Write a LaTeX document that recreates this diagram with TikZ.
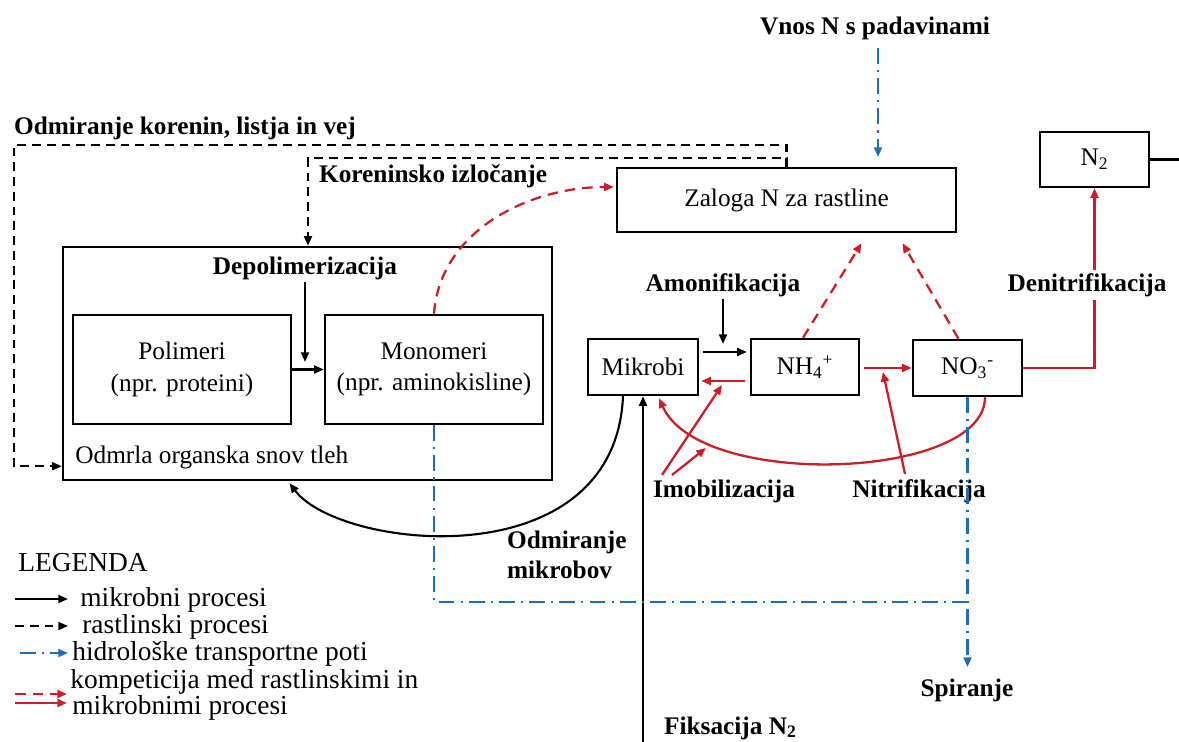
\documentclass[tikz,border=0pt]{standalone}
\usepackage{fontspec}
\setmainfont{Liberation Serif}
\usetikzlibrary{arrows.meta,calc}
\definecolor{myred}{RGB}{205,30,40}
\definecolor{myblue}{RGB}{30,110,180}
\begin{document}
\begin{tikzpicture}[x=0.02cm,y=-0.02cm,
  box/.style={draw,line width=1.4pt,inner sep=0pt,font=\fontsize{14.4}{18}\selectfont,align=center},
  lab/.style={font=\fontsize{14.4}{17}\selectfont\bfseries,inner sep=1pt},
  tip/.style={-{Triangle[length=5.5pt,width=4.5pt]}},
  micro/.style={tip,line width=1.2pt},
  plant/.style={tip,line width=1.2pt,dash pattern=on 5pt off 3.4pt},
  hydro/.style={tip,line width=1.2pt,myblue,dash pattern=on 9pt off 3.5pt on 1.2pt off 3.5pt},
  hydroline/.style={line width=1.2pt,myblue,dash pattern=on 9pt off 3.5pt on 1.2pt off 3.5pt},
  compd/.style={tip,line width=1.3pt,myred,dash pattern=on 6pt off 4pt},
  comps/.style={tip,line width=1.3pt,myred},
  leg/.style={font=\fontsize{15.6}{18}\selectfont,anchor=west,inner sep=0pt,text height=10pt,text depth=3pt}
]
\useasboundingbox (0,0) rectangle (1179,742);

% boxes
\node[box,minimum width=9.78cm,minimum height=4.66cm] (big) at (307.5,363.5) {};
\node[box,minimum width=4.36cm,minimum height=2.18cm] (poli) at (182,369.5) {Polimeri\\(npr. proteini)};
\node[box,minimum width=4.36cm,minimum height=2.18cm] (mono) at (434,369.5) {Monomeri\\(npr. aminokisline)};
\node[box,minimum width=6.78cm,minimum height=1.28cm] (zal) at (786.5,200) {Zaloga N za rastline};
\node[box,minimum width=2.18cm,minimum height=1.10cm] (n2) at (1094.5,159.5) {N\textsubscript{2}};
\node[box,minimum width=2.2cm,minimum height=1.12cm] (mik) at (643,367) {Mikrobi};
\node[box,minimum width=2.16cm,minimum height=1.12cm] (nh4) at (805,367) {NH\textsubscript{4}\textsuperscript{+}};
\node[box,minimum width=2.18cm,minimum height=1.12cm] (no3) at (967.5,368) {NO\textsubscript{3}\textsuperscript{-}};
\node[font=\fontsize{14.4}{18}\selectfont,anchor=west,inner sep=0pt] (odm) at (75,457) {Odmrla organska snov tleh};

% labels
\node[lab] (vnos) at (875,28) {Vnos N s padavinami};
\node[lab,anchor=west] (okv) at (12,128) {Odmiranje korenin, listja in vej};
\node[lab,anchor=west] (kor) at (317,176) {Koreninsko izločanje};
\node[lab] (dep) at (305,268) {Depolimerizacija};
\node[lab] (amo) at (723,285) {Amonifikacija};
\node[lab] (imo) at (724,491) {Imobilizacija};
\node[lab] (nit) at (919,491) {Nitrifikacija};
\node[lab] (spi) at (967,690) {Spiranje};
\node[lab,anchor=west] (fix) at (662,728) {Fiksacija N\textsubscript{2}};
\node[lab,anchor=west,align=left,font=\fontsize{14.4}{17}\selectfont\bfseries] (omk) at (505,555) {Odmiranje\\mikrobov};

% coordinates
\coordinate (ok) at (14,145);
\coordinate (ik) at (308,158);
\coordinate (depend) at (305,362);
\coordinate (amoend) at (723,344);
\coordinate (n2r) at (1179,159.5);
\coordinate (im1s) at (662,475);
\coordinate (im1e) at (722,385);
\coordinate (im2s) at (672,475);
\coordinate (im2e) at (706,448);
\coordinate (nits) at (905,474);
\coordinate (nite) at (883,372);
\coordinate (fb) at (643,742);
\coordinate (hj) at (967.5,602);
\coordinate (spe) at (967.5,667);
\coordinate (vs) at (878,48);
\coordinate (ve) at (878,157);

% plant processes (black dashed)
\draw[plant] (zal.north) |- (ok) |- ($(big.south west)+(0,-15)$);
\draw[plant] (zal.north) |- (ik) -- (ik|-big.north);

% depolymerisation
\draw[micro] (dep.south) -- (depend);
\draw[micro] (poli.east) -- (mono.west);

% competition (red dashed)
\draw[compd] (mono.north) .. controls (440,230) and (530,187) .. ($(zal.west)+(-2,-13)$);
\draw[compd] ($(nh4.north)+(-2,0)$) -- ($(zal.south)+(75,10)$);
\draw[compd] ($(no3.north)+(-9,0)$) -- ($(zal.south)+(116,10)$);

% microbial
\draw[micro] ($(mik.east)+(4,-15)$) -- ($(nh4.west)+(-3,-15)$);
\draw[micro] (amo.south) -- (amoend);
\draw[micro] ($(mik.south)+(-20,0)$) .. controls (615,580) and (340,550) .. ($(big.south)+(-18,2)$);
\draw[micro] (fb) -- (mik.south);

% competition (red solid)
\draw[comps] ($(nh4.west)+(-5,14)$) -- ($(mik.east)+(2,14)$);
\draw[comps] ($(nh4.east)+(4,1)$) -- (no3.west);
\draw[comps] ($(no3.south)+(17.5,0)$) .. controls (985,480) and (700,490) .. ($(mik.south)+(16,2)$);
\draw[comps] (im1s) -- (im1e);
\draw[comps] (im2s) -- (im2e);
\draw[comps] (nits) -- (nite);
\draw[comps] (no3.east) -| (n2.south);
\node[lab,fill=white,inner sep=2pt] (den) at (1087,285) {Denitrifikacija};
\draw[line width=1.4pt] (n2.east) -- (n2r);

% hydrological
\draw[hydro] (vs) -- (ve);
\draw[hydroline] (mono.south) |- (hj);
\draw[hydro] (no3.south) -- (spe);

% legend
\node[leg] (lg) at (18,565) {LEGENDA};
\node[leg] (l1) at (80,600) {mikrobni procesi};
\node[leg] (l2) at (82,627) {rastlinski procesi};
\node[leg] (l3) at (72,654) {hidrološke transportne poti};
\node[leg] (l4) at (70,682) {kompeticija med rastlinskimi in};
\node[leg] (l5) at (72,708) {mikrobnimi procesi};
\coordinate (a1s) at (15,599); \coordinate (a1e) at (68,599);
\coordinate (a2s) at (15,626); \coordinate (a2e) at (68,626);
\coordinate (a3s) at (20,653); \coordinate (a3e) at (68,653);
\coordinate (a4s) at (15,694); \coordinate (a4e) at (67,694);
\coordinate (a5s) at (15,703); \coordinate (a5e) at (67,703);
\draw[micro] (a1s) -- (a1e);
\draw[plant] (a2s) -- (a2e);
\draw[hydro] (a3s) -- (a3e);
\draw[compd] (a4s) -- (a4e);
\draw[comps] (a5s) -- (a5e);
\end{tikzpicture}
\end{document}
